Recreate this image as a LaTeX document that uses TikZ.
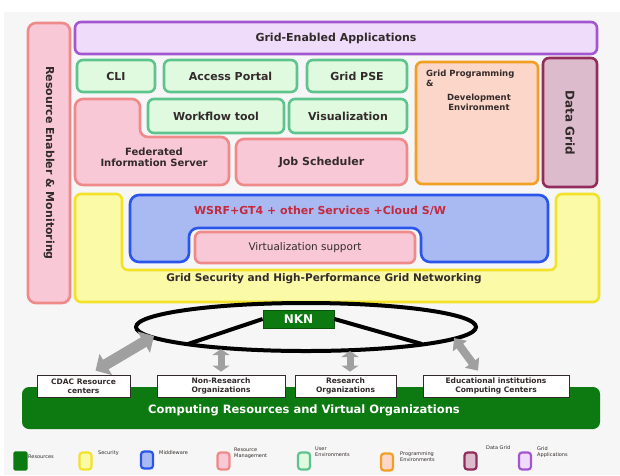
\documentclass[tikz,border=0pt]{standalone}
\usepackage{fontspec}
\setmainfont{DejaVu Sans}
\usetikzlibrary{arrows.meta,shapes.geometric}

\definecolor{appdraw}{HTML}{A455D0}
\definecolor{appfill}{HTML}{EEDCFA}
\definecolor{envdraw}{HTML}{5EC48E}
\definecolor{envfill}{HTML}{E0FAE0}
\definecolor{mgmtdraw}{HTML}{F08A8A}
\definecolor{mgmtfill}{HTML}{F8C8D6}
\definecolor{progdraw}{HTML}{F2A024}
\definecolor{progfill}{HTML}{FCD6C8}
\definecolor{datadraw}{HTML}{922C5C}
\definecolor{datafill}{HTML}{DCBCCC}
\definecolor{secdraw}{HTML}{F2E22A}
\definecolor{secfill}{HTML}{FBFAA6}
\definecolor{middraw}{HTML}{2A55EC}
\definecolor{midfill}{HTML}{A9BAF3}
\definecolor{resgreen}{HTML}{0C7A10}
\definecolor{wsrfred}{HTML}{C42A3E}
\definecolor{arrowgray}{HTML}{A0A0A0}
\definecolor{txt}{HTML}{332B2B}
\definecolor{bggray}{HTML}{F5F6F5}

\newcommand{\setfs}[2]{\fontsize{#1}{#2}\selectfont}

\tikzset{
  blk/.style={draw, line width=2.6pt, rounded corners=6pt, text=txt, inner sep=0pt,
    font=\bfseries\setfs{11}{12}},
  appbox/.style={blk, draw=appdraw, fill=appfill},
  envbox/.style={blk, draw=envdraw, fill=envfill},
  mgmtbox/.style={blk, draw=mgmtdraw, fill=mgmtfill, rounded corners=8pt},
  progbox/.style={blk, draw=progdraw, fill=progfill},
  databox/.style={blk, draw=datadraw, fill=datafill},
  secbox/.style={blk, draw=secdraw, fill=secfill},
  midbox/.style={blk, draw=middraw, fill=midfill, rounded corners=9pt},
  orgbox/.style={draw=txt, fill=white, line width=0.8pt, text=txt, align=center, inner sep=0pt,
    font=\bfseries\setfs{7.5}{9.3}},
  ringline/.style={line width=4pt, black},
  fatarrow/.style={line width=11pt, arrowgray,
    {Triangle[width=24pt,length=12pt]}-{Triangle[width=24pt,length=12pt]}},
  midarrow/.style={line width=8pt, arrowgray,
    {Triangle[width=17pt,length=10pt]}-{Triangle[width=17pt,length=10pt]}},
  stubarrow/.style={line width=7pt, arrowgray,
    {Triangle[width=17pt,length=6pt]}-{Triangle[width=17pt,length=6pt]}},
  swatch/.style={draw, line width=2.2pt, rounded corners=3pt, minimum width=12pt,
    minimum height=17pt, inner sep=0pt},
  legtxt/.style={font=\setfs{5}{6}, text=txt, align=left, anchor=west, inner sep=0pt}
}

\begin{document}
\begin{tikzpicture}[x=1pt,y=-1pt]
\useasboundingbox (0,0) rectangle (620,475);
\fill[bggray] (4,12) rectangle (620,475);

\node[mgmtbox, rotate=-90, minimum width=280pt, minimum height=42pt] (rem) at (49,163)
  {Resource Enabler \& Monitoring};
\node[appbox, minimum width=522pt, minimum height=32pt] (gea) at (336,38) {Grid-Enabled Applications};

\node[envbox, minimum width=78pt, minimum height=32pt] (cli) at (116,76) {CLI};
\node[envbox, minimum width=133pt, minimum height=32pt] (portal) at (230.5,76) {Access Portal};
\node[envbox, minimum width=100pt, minimum height=32pt] (pse) at (357,76) {Grid PSE};
\node[envbox, minimum width=136pt, minimum height=34pt] (wf) at (216,116) {Workflow tool};
\node[envbox, minimum width=118pt, minimum height=34pt] (vis) at (348,116) {Visualization};

\draw[mgmtbox] (75,99) -- (140,99) -- (140,137) -- (229,137) -- (229,185) -- (75,185) -- cycle;
\node[align=center, text=txt, font=\bfseries\setfs{10}{11}] (fis) at (154,157)
  {Federated\\Information Server};
\node[mgmtbox, minimum width=171pt, minimum height=46pt] (js) at (321.5,162) {Job Scheduler};

\node[progbox, minimum width=122pt, minimum height=122pt] (gpde) at (477,123) {};
\node[anchor=north west, align=left, inner sep=0pt, text=txt, font=\bfseries\setfs{8.5}{10}]
  (gpdetop) at (426,70) {Grid Programming\\\&};
\node[align=center, inner sep=0pt, text=txt, font=\bfseries\setfs{8.5}{10}]
  (gpdebot) at (479,102) {Development\\Environment};
\node[databox, rotate=-90, minimum width=129pt, minimum height=54pt, font=\bfseries\setfs{12}{13}]
  (dgrid) at (570,122.5) {Data Grid};

\draw[secbox] (75,194) -- (122,194) -- (122,270) -- (556,270) -- (556,194) -- (599,194)
  -- (599,302) -- (75,302) -- cycle;
\node[text=txt, font=\bfseries\setfs{10.5}{12}] (sec) at (324,279)
  {Grid Security and High-Performance Grid Networking};
\draw[midbox] (130,195) -- (548,195) -- (548,262) -- (421,262) -- (421,228) -- (189,228)
  -- (189,262) -- (130,262) -- cycle;
\node[text=wsrfred, font=\bfseries\setfs{11}{12}] (wsrf) at (320,211)
  {WSRF+GT4 + other Services +Cloud S/W};
\node[mgmtbox, rounded corners=6pt, minimum width=220pt, minimum height=31pt,
  font=\setfs{10.5}{12}] (virt) at (305,247.5) {Virtualization support};

\node[draw, ellipse, line width=4pt, minimum width=340pt, minimum height=48pt, inner sep=0pt]
  (ring) at (306,327) {};
\coordinate (ringl) at ([shift={(-118,17)}]ring.center);
\coordinate (ringr) at ([shift={(116,17)}]ring.center);
\coordinate (ringa) at ([shift={(-152,9)}]ring.center);
\coordinate (ringb) at ([shift={(-85,22)}]ring.center);
\coordinate (ringc) at ([shift={(44,24)}]ring.center);
\coordinate (ringd) at ([shift={(148,11)}]ring.center);
\node[fill=resgreen, draw=resgreen!70!black, line width=0.8pt, minimum width=71pt,
  minimum height=18pt, inner sep=0pt, text=white, font=\bfseries\setfs{12}{13}] (nkn) at (298.5,319) {NKN};
\draw[ringline] (nkn.west) -- (ringl);
\draw[ringline] (nkn.east) -- (ringr);

\node[fill=resgreen, rounded corners=7pt, minimum width=578pt, minimum height=42pt, inner sep=0pt]
  (base) at (311,408) {};
\node[text=white, font=\bfseries\setfs{11.5}{13}] (basetxt) at (304,410)
  {Computing Resources and Virtual Organizations};

\node[orgbox, minimum width=93pt, minimum height=22pt] (cdac) at (83.5,386) {CDAC Resource\\centers};
\node[orgbox, minimum width=128pt, minimum height=22pt] (nonres) at (221,386) {Non-Research\\Organizations};
\node[orgbox, minimum width=101pt, minimum height=22pt] (resorg) at (345.5,386) {Research\\Organizations};
\node[orgbox, minimum width=146pt, minimum height=22pt] (edu) at (496,386)
  {Educational institutions\\Computing Centers};

\draw[fatarrow] (ringa) -- ([xshift=12pt,yshift=4pt]cdac.north);
\draw[stubarrow] (ringb) -- ([yshift=3pt]ringb |- nonres.north);
\draw[stubarrow] (ringc) -- ([yshift=3pt]ringc |- resorg.north);
\draw[midarrow] (ringd) -- ([xshift=-18pt,yshift=4pt]edu.north);

\node[swatch, draw=resgreen, fill=resgreen, rounded corners=1pt] (lres) at (20.5,461) {};
\node[swatch, draw=secdraw, fill=secfill] (lsec) at (85.5,461) {};
\node[swatch, draw=middraw, fill=midfill] (lmid) at (147,460) {};
\node[swatch, draw=mgmtdraw, fill=mgmtfill] (lmgmt) at (223.5,461) {};
\node[swatch, draw=envdraw, fill=envfill] (lenv) at (304,461) {};
\node[swatch, draw=progdraw, fill=progfill] (lprog) at (387,462) {};
\node[swatch, draw=datadraw, fill=datafill] (ldata) at (470.5,461) {};
\node[swatch, draw=appdraw, fill=appfill] (lapp) at (525,461) {};
\node[legtxt] (tres) at (28,457) {Resources};
\node[legtxt] (tsec) at (98,453) {Security};
\node[legtxt] (tmid) at (159,453) {Middleware};
\node[legtxt] (tmgmt) at (234,453) {Resource\\Management};
\node[legtxt] (tenv) at (315,452) {User\\Environments};
\node[legtxt] (tprog) at (400,457) {Programming\\Environments};
\node[legtxt] (tdata) at (486,448) {Data Grid};
\node[legtxt] (tapp) at (537,452) {Grid\\Applications};
\end{tikzpicture}
\end{document}
